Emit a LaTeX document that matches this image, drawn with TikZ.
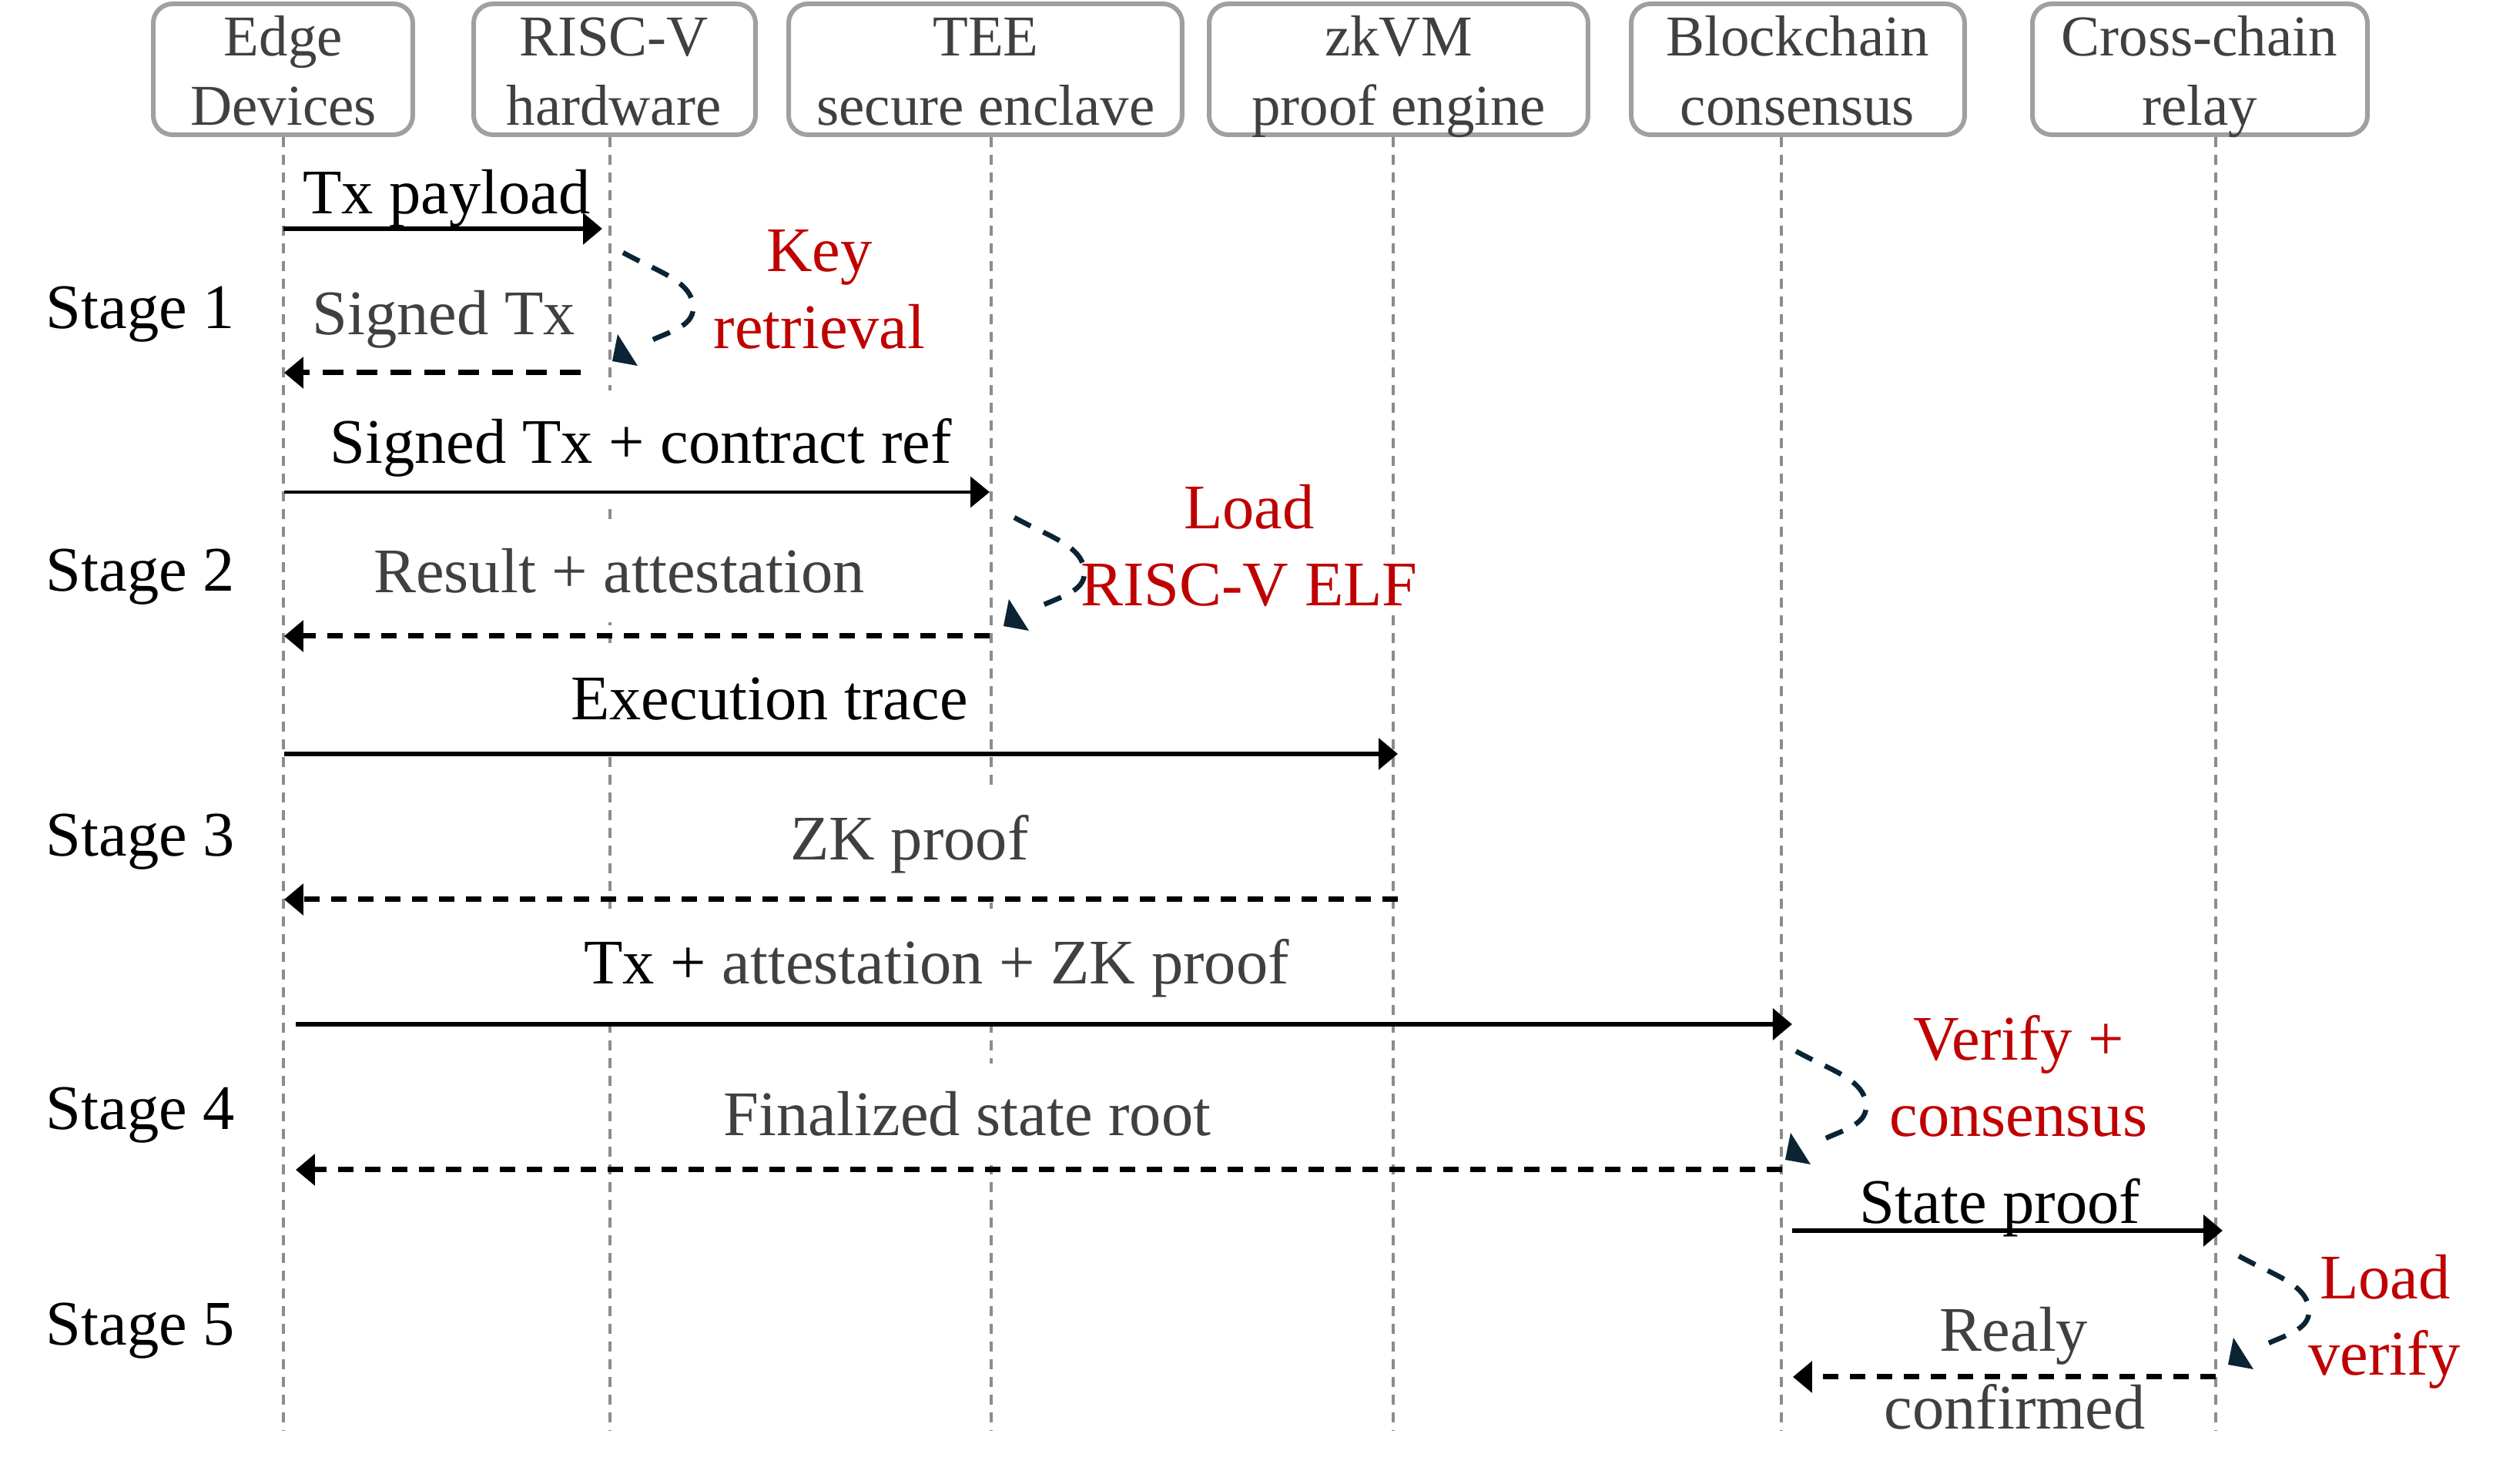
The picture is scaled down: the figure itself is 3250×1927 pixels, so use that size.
\documentclass[tikz,border=0pt]{standalone}
\usepackage{fontspec}
\setmainfont{Liberation Serif}
\usetikzlibrary{arrows.meta}
\definecolor{txtgray}{HTML}{404040}
\definecolor{boxgray}{HTML}{A0A0A0}
\definecolor{lifegray}{HTML}{8C8C8C}
\definecolor{redtxt}{HTML}{C00000}
\definecolor{loopcol}{HTML}{0A2434}
\tikzset{
 actorbox/.style={draw=boxgray, line width=0.6pt, rounded corners=2.5pt, fill=white, inner sep=0pt, minimum height=17pt},
 boxtxt/.style={anchor=base, inner sep=0pt, text=txtgray, font=\fontsize{7.5pt}{9pt}\selectfont},
 lifeline/.style={draw=lifegray, line width=0.45pt, dash pattern=on 1.3pt off 1pt},
 msglbl/.style={anchor=base, fill=white, inner xsep=0.5pt, inner ysep=3.7pt, font=\fontsize{8.25pt}{10pt}\selectfont},
 graylbl/.style={msglbl, text=txtgray},
 tightlbl/.style={graylbl, inner ysep=0.5pt},
 redlbl/.style={anchor=base, fill=white, inner sep=0.3pt, text=redtxt, font=\fontsize{8.25pt}{10pt}\selectfont},
 stagelbl/.style={anchor=base west, inner sep=0pt, font=\fontsize{8.25pt}{10pt}\selectfont},
 msgtip/.style={-{Triangle[length=2.5pt,width=4pt]}},
 callarrow/.style={msgtip, draw=black, line width=0.65pt},
 thincall/.style={msgtip, draw=black, line width=0.35pt},
 retarrow/.style={msgtip, draw=black, line width=0.7pt, dash pattern=on 2pt off 1.5pt},
 longret/.style={msgtip, draw=black, line width=0.7pt, dash pattern=on 2.7pt off 1.7pt},
 loopline/.style={draw=loopcol, line width=0.65pt, dash pattern=on 2.4pt off 1.8pt},
}
% #1 lifeline x, #2 start y, #3 x offset, #4 name
\newcommand\drawselfloop[4]{%
  \coordinate (#4s) at (#1+#3+17,#2);
  \coordinate (#4m) at (#1+#3+108,#2+72);
  \coordinate (#4e) at (#1+#3+45,#2+118);
  \draw[loopline] (#4s) .. controls (#1+#3+62,#2+25) and (#1+#3+108,#2+37) .. (#4m)
     .. controls (#1+#3+108,#2+97) and (#1+#3+75,#2+103) .. (#4e);
  \coordinate (#4a) at (#1+#3+10,#2+106);
  \coordinate (#4b) at (#1+#3+3,#2+141);
  \coordinate (#4c) at (#1+#3+36,#2+147);
  \fill[loopcol] (#4a) -- (#4b) -- (#4c) -- cycle;
}
\begin{document}
\begin{tikzpicture}[x=0.1pt,y=-0.1pt]
\useasboundingbox (0,0) rectangle (3250,1927);

% lifelines
\foreach \nm/\lx in {edge/368,risc/792,tee/1287,zk/1809,bc/2313,cc/2877}{
  \coordinate (\nm Top) at (\lx,178);
  \coordinate (\nm Bot) at (\lx,1858);
  \draw[lifeline] (\nm Top) -- (\nm Bot);
}

% actor boxes
\node[actorbox, minimum width=33.7pt] (edgeBox) at (367.5,90) {};
\node[actorbox, minimum width=36.6pt] (riscBox) at (798,90) {};
\node[actorbox, minimum width=51.1pt] (teeBox) at (1279.5,90) {};
\node[actorbox, minimum width=49.2pt] (zkBox) at (1816,90) {};
\node[actorbox, minimum width=43.3pt] (bcBox) at (2334.5,90) {};
\node[actorbox, minimum width=43.5pt] (ccBox) at (2856.5,90) {};

\node[boxtxt] (edgeA) at (368,73) {Edge};
\node[boxtxt] (edgeB) at (368,163) {Devices};
\node[boxtxt] (riscA) at (797,73) {RISC-V};
\node[boxtxt] (riscB) at (797,163) {hardware};
\node[boxtxt] (teeA) at (1280,73) {TEE};
\node[boxtxt] (teeB) at (1280,163) {secure enclave};
\node[boxtxt] (zkA) at (1816,73) {zkVM};
\node[boxtxt] (zkB) at (1816,163) {proof engine};
\node[boxtxt] (bcA) at (2334,73) {Blockchain};
\node[boxtxt] (bcB) at (2334,163) {consensus};
\node[boxtxt] (ccA) at (2856,73) {Cross-chain};
\node[boxtxt] (ccB) at (2856,163) {relay};

% stage labels
\node[stagelbl] (st1) at (58,427) {Stage 1};
\node[stagelbl] (st2) at (58,768) {Stage 2};
\node[stagelbl] (st3) at (58,1112) {Stage 3};
\node[stagelbl] (st4) at (58,1467) {Stage 4};
\node[stagelbl] (st5) at (58,1747) {Stage 5};

% message labels
\node[msglbl] (m1) at (580,278) {Tx payload};
\node[graylbl] (m2) at (576,435) {Signed Tx};
\node[msglbl] (m3) at (832,602) {Signed Tx + contract ref};
\node[graylbl] (m4) at (804,770) {Result + attestation};
\node[msglbl] (m5) at (999,935) {Execution trace};
\node[graylbl] (m6) at (1181,1117) {ZK proof};
\node[msglbl] (m7) at (1216,1278) {Tx + {\color{txtgray}attestation + ZK proof}};
\node[graylbl] (m8) at (1256,1475) {Finalized state root};
\node[msglbl] (m9) at (2597,1589) {State proof};
\node[tightlbl] (m10a) at (2615,1755) {Realy};
\node[tightlbl] (m10b) at (2616,1856) {confirmed};

% message arrow endpoints
\coordinate (a1s) at (368,297);  \coordinate (a1e) at (782,297);
\coordinate (a2s) at (754,484);  \coordinate (a2e) at (369,484);
\coordinate (a3s) at (369,639);  \coordinate (a3e) at (1285,639);
\coordinate (a4s) at (1285,826); \coordinate (a4e) at (369,826);
\coordinate (a5s) at (369,979);  \coordinate (a5e) at (1815,979);
\coordinate (a6s) at (1815,1168);\coordinate (a6e) at (369,1168);
\coordinate (a7s) at (384,1330); \coordinate (a7e) at (2327,1330);
\coordinate (a8s) at (2314,1519);\coordinate (a8e) at (384,1519);
\coordinate (a9s) at (2327,1598);\coordinate (a9e) at (2886,1598);
\coordinate (a10s) at (2877,1788);\coordinate (a10e) at (2328,1788);

\draw[callarrow] (a1s) -- (a1e);
\draw[longret] (a2s) -- (a2e);
\draw[thincall] (a3s) -- (a3e);
\draw[retarrow] (a4s) -- (a4e);
\draw[callarrow] (a5s) -- (a5e);
\draw[retarrow] (a6s) -- (a6e);
\draw[callarrow] (a7s) -- (a7e);
\draw[retarrow] (a8s) -- (a8e);
\draw[callarrow] (a9s) -- (a9e);
\draw[retarrow] (a10s) -- (a10e);

% red annotations
\node[redlbl] (r1a) at (1064,353) {Key};
\node[redlbl] (r1b) at (1064,453) {retrieval};
\node[redlbl] (r2a) at (1622,687) {Load};
\node[redlbl] (r2b) at (1622,787) {RISC-V ELF};
\node[redlbl] (r3a) at (2621,1377) {Verify +};
\node[redlbl] (r3b) at (2621,1476) {consensus};
\node[redlbl] (r4a) at (3097,1687) {Load};
\node[redlbl] (r4b) at (3096,1786) {verify};

% self loops
\drawselfloop{792}{328}{0}{lpA}
\drawselfloop{1287}{672}{13}{lpB}
\drawselfloop{2313}{1365}{2}{lpC}
\drawselfloop{2877}{1631}{13}{lpD}
\end{tikzpicture}
\end{document}
